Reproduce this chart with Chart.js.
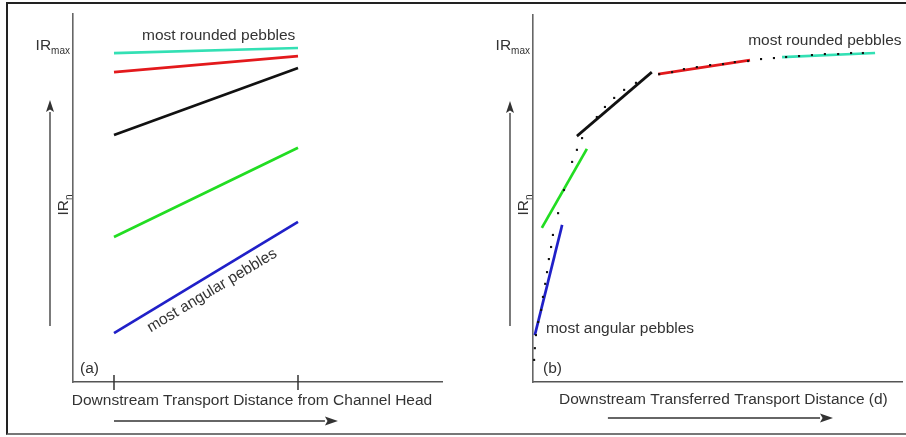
<!DOCTYPE html>
<html>
<head>
<meta charset="utf-8">
<script src="https://cdn.jsdelivr.net/npm/chart.js@4.4.0/dist/chart.umd.min.js"></script>
<style>
  body { margin: 0; background: #fff; }
  #fig { position: relative; width: 906px; height: 437px; overflow: hidden; }
  #frame {
    position: absolute; left: 6px; top: 2px; width: 905px; height: 433px;
    box-sizing: border-box;
    border-top: 2px solid #222; border-left: 2px solid #222; border-bottom: 2px solid #777;
  }
  canvas { position: absolute; top: 0; }
  #chartA { left: 0; }
  #chartB { left: 453px; }
</style>
</head>
<body>
<div id="fig">
  <div id="frame"></div>
  <canvas id="chartA" width="453" height="437"></canvas>
  <canvas id="chartB" width="453" height="437"></canvas>
</div>
<script>
const FONT = "'Liberation Sans', Arial, sans-serif";
const INK = "#333";

// (a) roundness vs distance from channel head, one line per lithology
const aTickX = [0, 1];
const aRounded = [0.982, 0.997];
const aRed = [0.925, 0.973];
const aBlack = [0.737, 0.937];
const aGreen = [0.433, 0.699];
const aAngular = [0.146, 0.478];

// (b) same lines shifted along the transferred distance d
const bDotX = [0.3, 0.5, 0.8, 1.4, 2.2, 2.7, 3.3, 3.8, 4.3, 4.9, 5.4, 6.8, 8.4, 10.6, 11.9, 13.3, 17.3, 19.5, 22.0, 24.7,
  27.9, 34.2, 37.7, 40.9, 44.4, 48.0, 51.5, 54.7, 58.3, 61.8, 65.3, 68.6, 72.1, 75.6, 79.1, 82.7, 86.2, 89.4];
const bDotY = [0.066, 0.101, 0.140, 0.179, 0.215, 0.254, 0.293, 0.328, 0.367, 0.403, 0.439, 0.504, 0.573, 0.657, 0.693, 0.728, 0.791, 0.821, 0.848, 0.872,
  0.893, 0.919, 0.925, 0.934, 0.940, 0.946, 0.949, 0.955, 0.958, 0.964, 0.967, 0.970, 0.973, 0.976, 0.979, 0.979, 0.982, 0.982];
const bAngularX = [0.5, 7.9];
const bAngularY = [0.140, 0.469];
const bGreenX = [2.4, 14.6];
const bGreenY = [0.460, 0.696];
const bBlackX = [11.9, 32.2];
const bBlackY = [0.734, 0.925];
const bRedX = [33.9, 58.8];
const bRedY = [0.919, 0.961];
const bRoundedX = [67.5, 92.7];
const bRoundedY = [0.970, 0.982];

const COLORS = { rounded: "#33e0b4", red: "#e3191c", black: "#111111", green: "#22dd22", blue: "#2020c8" };

const pairs = (xs, ys) => xs.map((x, i) => ({ x, y: ys[i] }));

function seg(xs, ys, color) {
  return { data: pairs(xs, ys), showLine: true, borderColor: color, borderWidth: 2.7, pointRadius: 0, order: 1 };
}

function arrow(ctx, x1, y1, x2, y2, len, half) {
  const a = Math.atan2(y2 - y1, x2 - x1);
  const c = Math.cos(a), s = Math.sin(a);
  ctx.beginPath();
  ctx.moveTo(x1, y1);
  ctx.lineTo(x2 - len * c, y2 - len * s);
  ctx.stroke();
  ctx.beginPath();
  ctx.moveTo(x2, y2);
  ctx.lineTo(x2 - len * c + half * s, y2 - len * s - half * c);
  ctx.lineTo(x2 - len * c * 0.8, y2 - len * s * 0.8);
  ctx.lineTo(x2 - len * c - half * s, y2 - len * s + half * c);
  ctx.closePath();
  ctx.fill();
}

// IR with a subscript, drawn along the local x direction
function irText(ctx, sub, x0, base) {
  ctx.font = "15.5px " + FONT;
  ctx.fillText("IR", x0, base);
  const w = ctx.measureText("IR").width;
  ctx.font = "10px " + FONT;
  ctx.fillText(sub, x0 + w, base + 4);
}

function irWidth(ctx, sub) {
  ctx.font = "15.5px " + FONT;
  const w = ctx.measureText("IR").width;
  ctx.font = "10px " + FONT;
  return w + ctx.measureText(sub).width;
}

const decor = {
  id: "decor",
  afterDraw(chart, args, o) {
    const { ctx, chartArea: area, scales: { x, y } } = chart;
    ctx.save();
    ctx.fillStyle = INK;
    ctx.strokeStyle = INK;

    // tick marks across the x axis
    ctx.lineWidth = 1.5;
    (o.ticks || []).forEach(v => {
      const px = x.getPixelForValue(v);
      ctx.beginPath();
      ctx.moveTo(px, area.bottom - 7);
      ctx.lineTo(px, area.bottom + 8);
      ctx.stroke();
    });

    // direction arrows
    ctx.lineWidth = 1.3;
    arrow(ctx, area.left - 23, area.bottom - 56, area.left - 23, area.top + 86, 12, 4);
    arrow(ctx, x.getPixelForValue(o.arrowX[0]), area.bottom + o.arrowDy,
      x.getPixelForValue(o.arrowX[1]), area.bottom + o.arrowDy, 13, 4.5);

    // IRmax and IRn
    ctx.textAlign = "left";
    ctx.textBaseline = "alphabetic";
    const ym = y.getPixelForValue(1);
    irText(ctx, "max", area.left - 3 - irWidth(ctx, "max"), ym + 3);
    ctx.save();
    ctx.translate(area.left - 5, area.bottom - 177);
    ctx.rotate(-Math.PI / 2);
    irText(ctx, "n", -irWidth(ctx, "n") / 2, 0);
    ctx.restore();

    // panel tag and axis title
    ctx.font = "15.5px " + FONT;
    ctx.fillText(o.tag, area.left + o.tagDx, area.bottom - 9);
    ctx.textAlign = "center";
    ctx.textBaseline = "middle";
    ctx.fillText(o.xTitle, x.getPixelForValue(o.xTitleAt), area.bottom + o.xTitleDy);

    // notes
    o.notes.forEach(n => {
      ctx.save();
      ctx.translate(x.getPixelForValue(n.x), y.getPixelForValue(n.y));
      ctx.rotate((n.rot || 0) * Math.PI / 180);
      ctx.textAlign = "left";
      ctx.textBaseline = n.rot ? "alphabetic" : "middle";
      ctx.fillText(n.text, 0, 0);
      ctx.restore();
    });
    ctx.restore();
  }
};

function makeChart(id, datasets, xMin, xMax, yMax, padding, deco) {
  return new Chart(document.getElementById(id), {
    type: "scatter",
    data: { datasets },
    options: {
      responsive: false,
      animation: false,
      events: [],
      layout: { padding },
      plugins: { legend: { display: false }, tooltip: { enabled: false }, decor: deco },
      scales: {
        x: {
          type: "linear", min: xMin, max: xMax,
          ticks: { display: false }, grid: { display: false },
          border: { color: "#555", width: 1.6 },
          afterFit: s => { s.height = 0; }
        },
        y: {
          type: "linear", min: 0, max: yMax,
          ticks: { display: false }, grid: { display: false },
          border: { color: "#666", width: 1.6 },
          afterFit: s => { s.width = 0; }
        }
      }
    },
    plugins: [decor]
  });
}

makeChart("chartA", [
  seg(aTickX, aRounded, COLORS.rounded),
  seg(aTickX, aRed, COLORS.red),
  seg(aTickX, aBlack, COLORS.black),
  seg(aTickX, aGreen, COLORS.green),
  seg(aTickX, aAngular, COLORS.blue)
], -0.2228, 1.7826, 1.0985, { left: 73, right: 11, top: 14, bottom: 55 }, {
  ticks: aTickX,
  arrowX: [0, 1.217], arrowDy: 39,
  tag: "(a)", tagDx: 7,
  xTitle: "Downstream Transport Distance from Channel Head", xTitleAt: 0.75, xTitleDy: 19,
  notes: [
    { text: "most rounded pebbles", x: 0.152, y: 1.033 },
    { text: "most angular pebbles", x: 0.2, y: 0.148, rot: -31 }
  ]
});

makeChart("chartB", [
  { data: pairs(bDotX, bDotY), showLine: false, pointStyle: "rect", pointRadius: 1.5, pointBorderWidth: 0,
    pointBackgroundColor: "#111", order: 0 },
  seg(bAngularX, bAngularY, COLORS.blue),
  seg(bGreenX, bGreenY, COLORS.green),
  seg(bBlackX, bBlackY, COLORS.black),
  seg(bRedX, bRedY, COLORS.red),
  seg(bRoundedX, bRoundedY, COLORS.rounded)
], 0, 100, 1.0955, { left: 80, right: 4, top: 15, bottom: 55 }, {
  ticks: [],
  arrowX: [20.3, 81.3], arrowDy: 36,
  tag: "(b)", tagDx: 10,
  xTitle: "Downstream Transferred Transport Distance (d)", xTitleAt: 51.6, xTitleDy: 18,
  notes: [
    { text: "most rounded pebbles", x: 58.3, y: 1.018 },
    { text: "most angular pebbles", x: 3.5, y: 0.158 }
  ]
});
</script>
</body>
</html>
